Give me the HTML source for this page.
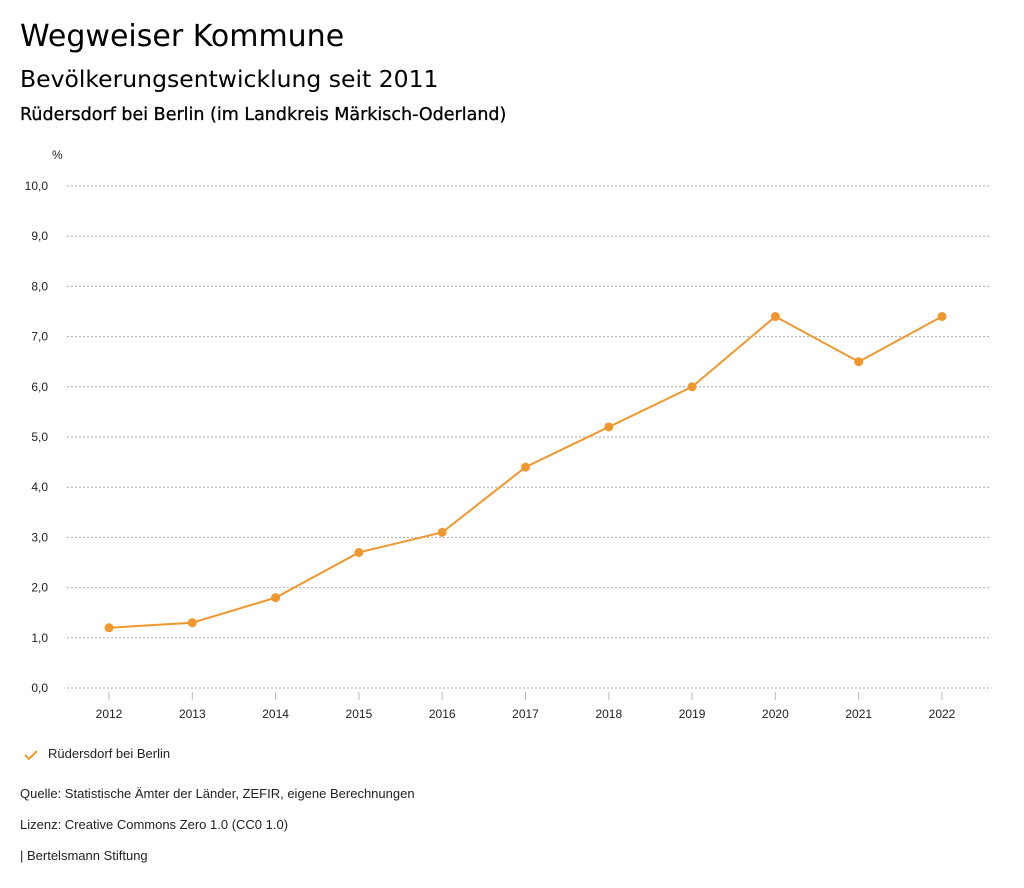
<!DOCTYPE html>
<html><head><meta charset="utf-8"><style>
body{margin:0;width:1024px;height:888px;background:#fff;font-family:"Liberation Sans",sans-serif;color:#000;overflow:hidden}
.t{position:absolute;left:20px;white-space:nowrap}
.d{font-family:"DejaVu Sans",sans-serif}
</style></head><body>
<div class="t d" style="top:19px;font-size:30px">Wegweiser Kommune</div>
<div class="t d" style="top:65px;font-size:23.5px">Bevölkerungsentwicklung seit 2011</div>
<div class="t d" style="top:105px;font-size:17.5px;-webkit-text-stroke:0.3px #000">Rüdersdorf bei Berlin (im Landkreis Märkisch-Oderland)</div>
<svg id="c" width="1024" height="888" style="position:absolute;left:0;top:0" font-family="Liberation Sans, sans-serif"></svg>
<div class="t" style="top:746px;left:48px;font-size:13px;color:#222">Rüdersdorf bei Berlin</div>
<svg width="14" height="12" style="position:absolute;left:24px;top:749px"><path d="M1 6 L5 10 L13 2" fill="none" stroke="#f0982f" stroke-width="2"/></svg>
<div class="t" style="top:786px;font-size:13px;color:#222">Quelle: Statistische Ämter der Länder, ZEFIR, eigene Berechnungen</div>
<div class="t" style="top:817px;font-size:13px;color:#222">Lizenz: Creative Commons Zero 1.0 (CC0 1.0)</div>
<div class="t" style="top:848px;font-size:13px;color:#222">| Bertelsmann Stiftung</div>
<script>
const years=["2012","2013","2014","2015","2016","2017","2018","2019","2020","2021","2022"];
const values=[1.2,1.3,1.8,2.7,3.1,4.4,5.2,6.0,7.4,6.5,7.4];
const yTicks=[0,1,2,3,4,5,6,7,8,9,10];
const NS="http://www.w3.org/2000/svg",svg=document.getElementById('c');
const X=i=>109+i*83.3, Y=v=>688-v*50.2;
function mk(t,a){const e=document.createElementNS(NS,t);for(const k in a)e.setAttribute(k,a[k]);svg.appendChild(e);return e;}
let u=mk('text',{x:52,y:159,'font-size':12,fill:'#222'});u.textContent='%';


yTicks.forEach(v=>{
 const l=mk('line',{x1:67,x2:990,y1:Y(v),y2:Y(v),stroke:'#aaa','stroke-dasharray':'2,2','stroke-width':1});
 
 
 const t=mk('text',{x:48,y:Y(v)+4,'text-anchor':'end','font-size':12,fill:'#222'});
 t.textContent=v.toFixed(1).replace('.',',');
 
 
});
years.forEach((y,i)=>{
 const l=mk('line',{x1:X(i),x2:X(i),y1:692,y2:700,stroke:'#bbb'});
 
 
 const t=mk('text',{x:X(i),y:718,'text-anchor':'middle','font-size':12,fill:'#222'});
 t.textContent=y;
 
 
});
const p=mk('polyline',{points:values.map((v,i)=>X(i)+','+Y(v)).join(' '),fill:'none',stroke:'#f0982f','stroke-width':2});


values.forEach((v,i)=>{
 const c=mk('circle',{cx:X(i),cy:Y(v),r:4.5,fill:'#f0982f'});
 
 
});
</script>
</body></html>
